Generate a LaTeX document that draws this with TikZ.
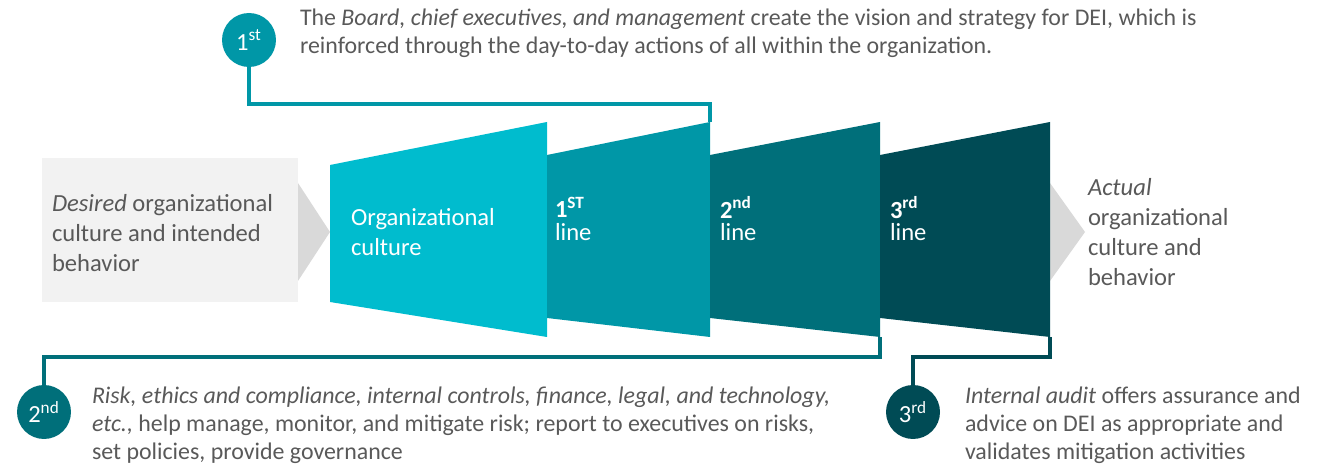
\documentclass[tikz,border=0pt]{standalone}
\usepackage{fontspec}
\setmainfont{Carlito}
\usepackage{tikz}
\definecolor{dtCyan}{RGB}{0,188,206}
\definecolor{dtTealA}{RGB}{0,151,167}
\definecolor{dtTealB}{RGB}{0,111,122}
\definecolor{dtTealC}{RGB}{0,75,85}
\definecolor{dtBox}{RGB}{242,242,242}
\definecolor{dtArrow}{RGB}{217,217,217}
\definecolor{dtText}{RGB}{89,89,89}

\begin{document}
\begin{tikzpicture}[x=0.02cm, y=-0.02cm]%
  \tikzset{link/.style={draw, line width=1.8pt}}
  \tikzset{badge/.style={circle, minimum size=1.08cm, text=white, font=\fontsize{14}{16}\selectfont}}
  \tikzset{note/.style={anchor=west, align=left, font=\fontsize{13.6}{15.9}\selectfont}}
  \tikzset{big note/.style={anchor=west, align=left, font=\fontsize{14}{17}\selectfont}}
  \tikzstyle{every node}=[draw=none, text=dtText, inner sep=0pt, outer sep=0pt]

  \useasboundingbox (0,0) rectangle (1327,465);

  % corners the connectors run to
  \coordinate (l1-ne) at (710,122);
  \coordinate (l2-se) at (880,337);
  \coordinate (l3-se) at (1050,337);

  % left box and arrows
  \fill[dtArrow] (298,183) -- (330,232) -- (298,281) -- cycle;
  \fill[dtBox] (42,158) rectangle (298,302);
  \fill[dtArrow] (1050,183) -- (1085,232) -- (1050,281) -- cycle;

  % the four stages
  \fill[dtCyan]  (330,165) -- (547,122) -- (547,337) -- (330,302) -- cycle;
  \fill[dtTealA] (547,155) -- (l1-ne) -- (710,337) -- (547,318) -- cycle;
  \fill[dtTealB] (710,155) -- (880,122) -- (l2-se) -- (710,318) -- cycle;
  \fill[dtTealC] (880,155) -- (1050,122) -- (l3-se) -- (880,318) -- cycle;

  \node[big note] at (52,233) (desired) {\textit{Desired} organizational\\culture and intended\\behavior};
  \node[big note, text=white] at (351,232) (culture) {Organizational\\culture};
  \node[big note, text=white] at (555,219) (line1) {\textbf{1\textsuperscript{ST}}\\[-4pt]line};
  \node[big note, text=white] at (720,219) (line2) {\textbf{2\textsuperscript{nd}}\\[-4pt]line};
  \node[big note, text=white] at (890,219) (line3) {\textbf{3\textsuperscript{rd}}\\[-4pt]line};
  \node[big note] at (1088,232) (actual) {\textit{Actual}\\organizational\\culture and\\behavior};

  % numbered notes
  \node[badge, fill=dtTealA] at (249,40) (b1) {1\textsuperscript{st}};
  \node[badge, fill=dtTealB] at (44,412) (b2) {2\textsuperscript{nd}};
  \node[badge, fill=dtTealC] at (913,412) (b3) {3\textsuperscript{rd}};

  \node[note] at (300,33) (t1) {The \textit{Board, chief executives, and management} create the vision and strategy for DEI, which is\\reinforced through the day-to-day actions of all within the organization.};
  \node[note] at (92,425) (t2) {\textit{Risk, ethics and compliance, internal controls, finance, legal, and technology,}\\\textit{etc.,} help manage, monitor, and mitigate risk; report to executives on risks,\\set policies, provide governance};
  \node[note] at (965,425) (t3) {\textit{Internal audit} offers assurance and\\advice on DEI as appropriate and\\validates mitigation activities};

  \path[link, dtTealA] (l1-ne) -- ++(0,-18) -| (b1);
  \path[link, dtTealB] (l2-se) -- ++(0,20) -| (b2);
  \path[link, dtTealC] (l3-se) -- ++(0,20) -| (b3);
\end{tikzpicture}
\end{document}
